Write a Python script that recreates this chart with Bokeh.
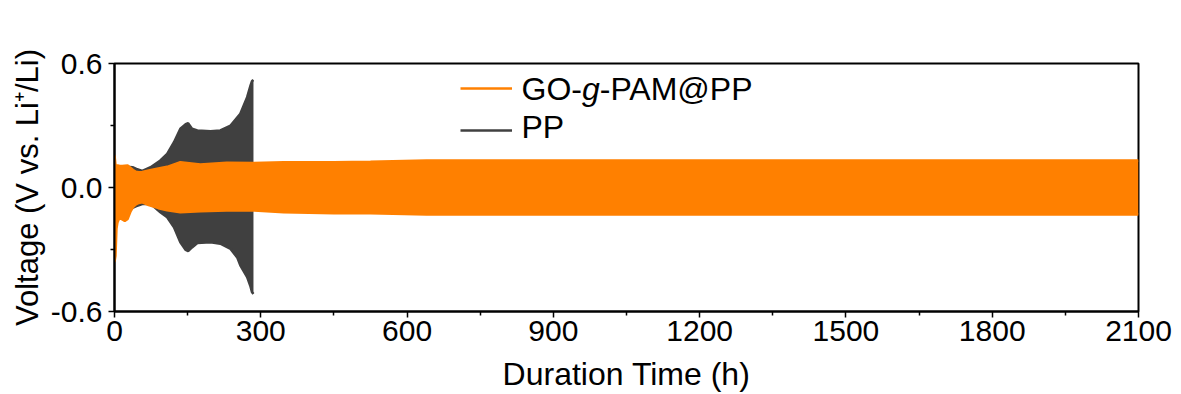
from bokeh.plotting import figure
from bokeh.models import (Range1d, FixedTicker, PrintfTickFormatter, Legend, LegendItem, Label)
from bokeh.embed import file_html
from bokeh.resources import INLINE

# ---- data: envelopes of the voltage oscillation ----
pp_time = [0, 10, 25, 37, 45, 57, 74, 94, 108, 122, 135, 146, 151, 159, 170, 197, 217,
           238, 252, 258, 272, 279, 282, 285]
pp_upper = [0.10, 0.10, 0.10, 0.098, 0.09, 0.08, 0.098, 0.131, 0.163, 0.219, 0.284, 0.306,
            0.311, 0.284, 0.276, 0.272, 0.276, 0.30, 0.34, 0.357, 0.437, 0.494, 0.515, 0.52]
pp_lower = [-0.10, -0.10, -0.10, -0.098, -0.09, -0.08, -0.079, -0.12, -0.144, -0.192, -0.265,
            -0.302, -0.308, -0.29, -0.269, -0.265, -0.272, -0.297, -0.34, -0.377, -0.434,
            -0.48, -0.507, -0.515]

go_time = [0, 2, 4, 6, 10, 16, 21, 27, 33, 38, 44, 50, 57, 70, 90, 108, 135, 176, 230,
           285, 347, 450, 525, 640, 900, 1200, 1500, 1800, 2100]
go_upper = [0.155, 0.11, 0.106, 0.106, 0.105, 0.104, 0.105, 0.106, 0.095, 0.085, 0.076,
            0.074, 0.075, 0.082, 0.092, 0.10, 0.122, 0.111, 0.12, 0.118, 0.122, 0.122,
            0.125, 0.131, 0.131, 0.131, 0.131, 0.131, 0.131]
go_lower = [-0.36, -0.33, -0.20, -0.17, -0.147, -0.155, -0.162, -0.152, -0.115, -0.095,
            -0.082, -0.075, -0.072, -0.085, -0.10, -0.11, -0.12, -0.115, -0.111, -0.111,
            -0.12, -0.124, -0.124, -0.131, -0.131, -0.131, -0.131, -0.131, -0.131]

x_ticks = [0, 300, 600, 900, 1200, 1500, 1800, 2100]
x_minor = [150, 450, 750, 1050, 1350, 1650, 1950]
y_ticks = [-0.6, 0.0, 0.6]
y_minor = [-0.3, 0.3]

ORANGE = "#FF8000"
GRAY = "#404040"
FONT = "Liberation Sans"

p = figure(width=1181, height=394, output_backend="svg", toolbar_location=None,
           x_range=Range1d(0, 2100), y_range=Range1d(-0.6, 0.6),
           min_border_left=114, min_border_right=43, min_border_top=63, min_border_bottom=83)
p.xgrid.visible = False
p.ygrid.visible = False
p.outline_line_color = "black"
p.outline_line_width = 2
p.background_fill_color = "white"
p.border_fill_color = "white"

p.varea(x=pp_time, y1=pp_lower, y2=pp_upper, fill_color=GRAY)
pp_r = p.multi_line(xs=[pp_time, pp_time], ys=[pp_upper, pp_lower], line_color=GRAY, line_width=2.5)
p.varea(x=go_time, y1=go_lower, y2=go_upper, fill_color=ORANGE)
go_r = p.multi_line(xs=[go_time, go_time], ys=[go_upper, go_lower], line_color=ORANGE, line_width=2.5)

for ax in (p.xaxis[0], p.yaxis[0]):
    ax.axis_line_width = 2
    ax.axis_line_color = "black"
    ax.major_tick_line_width = 1.5
    ax.minor_tick_line_width = 1.5
    ax.major_tick_in = 0
    ax.major_tick_out = 6
    ax.minor_tick_in = 0
    ax.minor_tick_out = 4
    ax.major_label_text_font = FONT
    ax.major_label_text_font_size = "30px"
    ax.major_label_text_color = "black"
    ax.axis_label_text_font = FONT
    ax.axis_label_text_font_style = "normal"
    ax.axis_label_text_color = "black"

p.xaxis.ticker = FixedTicker(ticks=x_ticks, minor_ticks=x_minor)
p.yaxis.ticker = FixedTicker(ticks=y_ticks, minor_ticks=y_minor)
p.yaxis.formatter = PrintfTickFormatter(format="%.1f")
p.xaxis.major_label_standoff = 3
p.yaxis.major_label_standoff = 6
p.xaxis.axis_label = "Duration Time (h)"
p.xaxis.axis_label_text_font_size = "32px"
p.xaxis.axis_label_standoff = 12
p.yaxis.axis_label = "Voltage (V vs. Li\u207a/Li)"
p.yaxis.axis_label_text_font_size = "31px"
p.yaxis.axis_label_standoff = 3

legend = Legend(items=[LegendItem(label=" ", renderers=[go_r]),
                       LegendItem(label=" ", renderers=[pp_r])],
                location=(346, 160.1), orientation="vertical", border_line_color=None,
                background_fill_alpha=0, padding=0, margin=0, spacing=0,
                glyph_width=52, glyph_height=42, label_height=42, label_width=1,
                label_standoff=0, label_text_font_size="1px")
p.add_layout(legend, "center")

LEG = 32
base1 = 222.5
base2 = 184.5
x0 = 407
w_go = 1.889 * LEG
w_g = 0.556 * LEG
for txt, xx, yy, style in [("GO-", x0, base1, "normal"),
                           ("g", x0 + w_go, base1, "italic"),
                           ("-PAM@PP", x0 + w_go + w_g, base1, "normal"),
                           ("PP", x0, base2, "normal")]:
    p.add_layout(Label(x=xx, y=yy, x_units="screen", y_units="screen", text=txt,
                       text_font=FONT, text_font_size=f"{LEG}px", text_font_style=style,
                       text_baseline="alphabetic", text_align="left", text_color="black"))

open("out.html", "w").write(file_html(p, INLINE))
